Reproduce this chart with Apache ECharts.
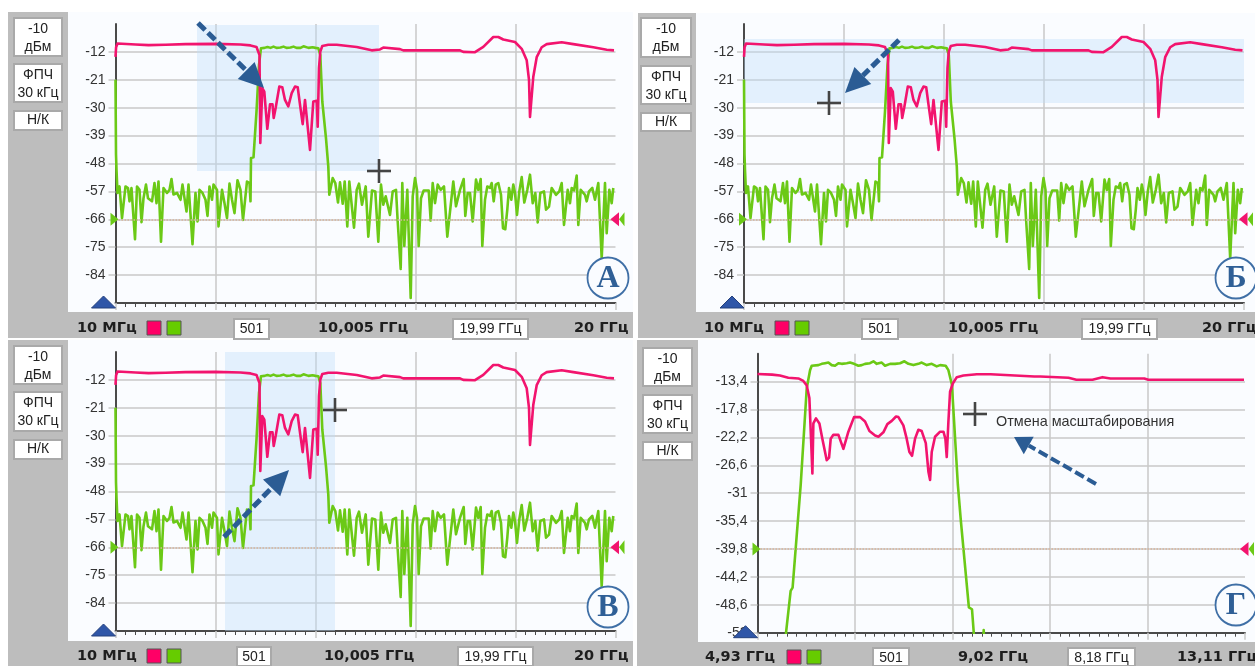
<!DOCTYPE html>
<html><head><meta charset="utf-8">
<style>html,body{margin:0;padding:0;background:#fff}#c{width:1255px;height:666px}</style>
<script src="https://cdn.jsdelivr.net/npm/echarts@6/dist/echarts.min.js"></script>
</head><body><div id="c"></div>
<script>
// Sweep point number (0..500) and level in dB
const wideRed = [[0,-13.6],[0.6,-10.5],[2,-9.3],[20,-9.6],[33,-9.8],[50,-9.7],[70,-9.5],[72,-9.2],[100,-9.4],[125,-9.6],[135,-9.9],[141,-10.4],[142.8,-10.7],[144,-13],[144.8,-41.4],[146.8,-23.7],[148.8,-24.8],[151.8,-36.8],[154.5,-28.9],[157,-28.9],[158.2,-33.3],[160.2,-30],[163.8,-23.2],[166.8,-23.4],[169.5,-27.5],[172.8,-29.6],[176.2,-25.3],[179.5,-23.2],[182.2,-23.4],[184.5,-29],[187.2,-35.3],[189.5,-27.5],[191.5,-27.5],[194.5,-43.6],[197.8,-28],[201.2,-27.8],[202.2,-36.1],[203.5,-17.2],[204.8,-11.9],[206.8,-10.1],[212.8,-9.7],[221.2,-9.7],[241.2,-10.4],[256.2,-11.5],[264.5,-11.2],[267.8,-10.6],[284.5,-11.1],[287.8,-11.5],[344.5,-11.5],[347.8,-12],[359.5,-12.1],[367.8,-10.4],[377.8,-7.2],[382.8,-7.2],[387.8,-8],[399.5,-8.8],[406.2,-11],[411.2,-14.7],[413.5,-21],[414.5,-33],[416.2,-33],[417.8,-20],[421.2,-13.7],[426.2,-10.5],[431.2,-9.5],[446.2,-8.9],[457.8,-9.5],[477.8,-10.5],[491.2,-11.3],[498.5,-11.5]];
const wideGreenLow = [[0,-21],[0.5,-45],[1,-50],[2,-57.5],[4,-55.4],[6.5,-65.6],[10,-55.4],[12.5,-55.9],[14,-60.2],[16,-55.9],[17,-60.8],[19.5,-72.4],[21.5,-55.4],[24,-56.5],[26,-66.9],[28,-59.2],[30.5,-54.8],[32.5,-59.2],[36.5,-60.2],[39,-54.3],[41,-60.8],[43,-53.8],[45.5,-73.2],[48,-55.9],[51.5,-57.5],[54,-56.5],[56,-53],[58,-58],[61.5,-57.5],[65,-59.7],[67,-54.8],[71,-63.5],[73,-54.8],[77,-74],[80,-57.5],[82,-66.7],[84,-56.5],[87,-57.5],[90,-59.7],[92,-64.9],[94,-55.4],[96.5,-59.7],[98,-54.8],[101.5,-56.5],[103,-68.3],[106.5,-56.5],[109,-60.8],[111.5,-65.6],[114,-54.5],[116.5,-59.7],[119,-64],[122,-53.4],[125,-56.5],[127.5,-66.2],[131.5,-53.8],[134,-54.3],[135,-60.2]];
const wideGreenPass = [[135.5,-46.2],[138,-46],[141,-31.2],[143.5,-16.2],[145.5,-10.8],[149,-10.7],[152,-10.4],[155,-10.7],[158,-10.3],[161,-10.7],[165,-10.6],[168,-10.3],[171,-10.7],[175,-10.6],[178,-10.3],[181,-10.7],[185,-10.7],[188,-10.2],[190,-10.3],[193,-10.7],[197,-10.5],[200,-10.7],[202.8,-10.8],[204.8,-13],[206.8,-28],[210.5,-39.9],[212.8,-49]];
const wideGreenHigh = [[213.8,-58.1],[217.2,-52.7],[219.8,-54.3],[222.5,-60.6],[224.5,-54.1],[227.2,-61],[229.2,-53.8],[231.8,-68.3],[233.8,-53.8],[235.8,-53.2],[238.5,-68.7],[241.2,-56.5],[243.5,-54.5],[246.5,-61.3],[248.5,-61.8],[250.2,-55.4],[252.8,-71.6],[256.5,-56.7],[259.8,-57],[262.8,-73.2],[265.5,-54.8],[267.8,-61.3],[270.2,-58.6],[274.5,-64.6],[277.2,-57],[280.5,-56.5],[282.2,-66.7],[285.2,-82],[286.8,-54.3],[288.8,-74.6],[291.8,-56.5],[295.2,-91.4],[297.2,-58.6],[299.5,-52.7],[301.5,-56.5],[303.2,-74.6],[305.5,-59.2],[308.2,-56.7],[313.2,-56.7],[315.2,-66.4],[317.2,-54.3],[319.5,-60.8],[322.2,-54.8],[325.2,-56.5],[328.5,-55.4],[331.8,-71.6],[337.8,-53.8],[340.5,-61.8],[344.5,-56.5],[348.2,-53],[349.8,-64.9],[352.2,-57.5],[354.5,-57.5],[357.2,-66.7],[360.5,-53.2],[362.8,-56.5],[365.2,-53],[366.8,-74.6],[369.5,-59.7],[371.8,-55.4],[374.5,-55.9],[376.2,-54.3],[378.2,-60.2],[380.2,-54.8],[382.8,-54.3],[385.5,-58.1],[387.5,-68.9],[389.8,-69.2],[391.8,-62.9],[393.5,-55.9],[395.8,-59.7],[397.8,-54.8],[399.5,-57.5],[401.5,-64.6],[403.8,-57],[406.2,-52.4],[408.8,-60.6],[411.8,-56.5],[414.5,-51.6],[417.2,-60.8],[419.8,-57.5],[422.2,-67],[424.8,-57.5],[428.5,-57],[430.5,-62.9],[433.5,-61.9],[436.2,-55.9],[440.5,-58.1],[443.8,-57],[446.2,-54.3],[448.5,-67.8],[452.2,-56.5],[454.5,-60.8],[456.2,-55.9],[458.5,-56.7],[461.2,-51.9],[462.8,-67.8],[465.2,-56.5],[469.5,-58.1],[471.2,-60.2],[473.5,-57],[476.8,-55.9],[479.5,-59.7],[482.8,-54.3],[486.2,-78.7],[489.5,-54.3],[491.2,-70.5],[493.8,-56.5],[496.2,-60.8],[497.8,-55.9]];
const zoomRed = [[0,-12.2],[15,-12.3],[23,-12.45],[31.6,-12.8],[41.9,-12.9],[47,-13.3],[50.5,-14],[53.2,-16],[54.9,-22.4],[56.3,-27.9],[57.3,-20],[60,-19.2],[63.5,-20],[66.5,-22.4],[71,-25.8],[73.4,-25.4],[75.1,-22.4],[77.8,-21.8],[83,-21.8],[88.1,-24],[93.2,-21.3],[99,-19],[105.2,-19],[110.3,-19.7],[114.8,-21.2],[120.6,-21.9],[124,-22.1],[129.1,-21.4],[133.2,-20.1],[137.7,-19.6],[142.1,-18.9],[144.5,-19],[149.6,-20.3],[153,-22.4],[155.8,-24.5],[158.5,-25.1],[161.6,-22.4],[165,-21],[168.4,-21.2],[172.6,-23.1],[175.3,-27.6],[177,-28.9],[178.7,-24.5],[182.1,-22.1],[187.3,-21.3],[190.7,-21.3],[192.7,-22.4],[194.1,-25.3],[195.8,-19.7],[197.5,-15],[200.3,-13.7],[204.4,-12.7],[211.2,-12.45],[225,-12.25],[239,-12.25],[284,-12.6],[290,-12.6],[319,-12.8],[327,-13.1],[343.6,-13.1],[353.8,-12.7],[362,-12.9],[396.7,-12.9],[400.8,-13.1],[499,-13.1]];
const zoomGreen = [[28,-56],[29.4,-52.8],[34,-46.4],[36,-45.9],[44.3,-29.7],[50.5,-14.45],[53.9,-11.6],[55.6,-10.9],[62.4,-10.8],[65.9,-10.6],[69.3,-10.5],[72.7,-10.4],[76.1,-10.8],[79.5,-10.9],[83,-10.5],[86.4,-10.6],[91.5,-10.5],[94.9,-10.4],[99,-10.6],[103.5,-10.9],[106.9,-10.8],[110.3,-10.6],[115.4,-10.5],[118.9,-10.2],[122.3,-10.6],[127.4,-10.4],[130.8,-10.9],[136,-10.6],[141.1,-10.6],[146.2,-10.5],[150.7,-10.2],[154.8,-10.6],[159.9,-10.8],[165,-10.6],[168.4,-10.4],[173.6,-10.8],[178.7,-10.6],[183.8,-11],[187.3,-10.8],[193,-10.9],[195.8,-11.6],[199.4,-13.9],[205.5,-29.7],[208.6,-35.4],[216.8,-49],[220,-49.3],[221.7,-52.8],[223,-56],[231,-56],[232,-52.6],[233,-56]];

const wideTicks = [-84,-75,-66,-57,-48,-39,-30,-21,-12];
const zoomTicks = [-53,-48.6,-44.2,-39.8,-35.4,-31,-26.6,-22.2,-17.8,-13.4];
const wideRange = [-93,-3];
const zoomRange = [-53,-9];
const wideMarker = -66;
const zoomMarker = -39.8;
const areaA = [[81.5,-3.3],[263.5,-50.4]];
const areaB = [[0,-7.8],[500,-28.5]];
const areaV = [[109.5,-3],[219.5,-93]];

const wideGreen = wideGreenLow.concat(wideGreenPass, wideGreenHigh);

const RED='#f2146e', GREEN='#6bc916', GRID='#c9c9c9', DARK='#4a4a4a', BLUE='#2b5c94';
const panels = [
 {x:8,y:12,r:633,b:338,plotX:68,plotB:312,gl:115.5,gw:500,gt:24,btn:[13,63,17,57,63,103,110,131],
  red:wideRed,green:wideGreen,ticks:wideTicks,range:wideRange,mark:wideMarker,area:areaA,letter:'А',lx:608,ly:278,
  txtY:328,left:['10 МГц',77],sq:[147,167],box1:[234,269],mid:['10,005 ГГц',318],box2:[453,528,'19,99 ГГц'],right:['20 ГГц',574],
  arrow:[198,23,264,88],cross:[379,171]},
 {x:638,y:13,r:1255,b:338,plotX:696,plotB:312,gl:744,gw:500,gt:24,btn:[640,692,17,58,65,105,112,132],
  red:wideRed,green:wideGreen,ticks:wideTicks,range:wideRange,mark:wideMarker,area:areaB,letter:'Б',lx:1236,ly:278,
  txtY:328,left:['10 МГц',704],sq:[775,795],box1:[862,898],mid:['10,005 ГГц',948],box2:[1082,1157,'19,99 ГГц'],right:['20 ГГц',1202],
  arrow:[899,40,845,93],cross:[829,103]},
 {x:8,y:340,r:633,b:666,plotX:68,plotB:641,gl:115.5,gw:500,gt:352,btn:[13,63,345,385,391,432,439,460],
  red:wideRed,green:wideGreen,ticks:wideTicks,range:wideRange,mark:wideMarker,area:areaV,letter:'В',lx:608,ly:607,
  txtY:656,left:['10 МГц',77],sq:[147,167],box1:[237,271],mid:['10,005 ГГц',324],box2:[458,533,'19,99 ГГц'],right:['20 ГГц',574],
  arrow:[224,537,289,470],cross:[335,410]},
 {x:637,y:340,r:1255,b:666,plotX:698,plotB:642,gl:757.5,gw:487.5,gt:353.7,btn:[642,693,347,387,394,434,441,461],
  red:zoomRed,green:zoomGreen,ticks:zoomTicks,range:zoomRange,mark:zoomMarker,area:null,letter:'Г',lx:1236,ly:605,zoom:true,
  txtY:657,left:['4,93 ГГц',705],sq:[787,807],box1:[873,909],mid:['9,02 ГГц',958],box2:[1068,1135,'8,18 ГГц'],right:['13,11 ГГц',1177],
  arrow:[1096,484,1014,437],cross:[975,414]}
];
const G_H = 279;
const grids=[],xAxes=[],yAxes=[],series=[],els=[];
const rect=(x,y,w,h,fill,stroke,lw,z)=>({type:'rect',z:z||-5,silent:true,shape:{x,y,width:w,height:h},style:{fill,stroke:stroke||null,lineWidth:lw||0}});
const text=(s,x,y,font,fill,align,z)=>({type:'text',z:z||-3,silent:true,style:{text:s,x,y,font,fill:fill||'#222',textAlign:align||'center',textVerticalAlign:'middle'}});
const poly=(pts,fill,z,stroke)=>({type:'polygon',z:z||20,silent:true,shape:{points:pts},style:{fill,stroke:stroke||null,lineWidth:stroke?1:0}});
const F='14px "Liberation Sans"', FB='bold 14.5px "DejaVu Sans"';

panels.forEach((p,i)=>{
  grids.push({left:p.gl,top:p.gt,width:p.gw,height:G_H,containLabel:false});
  xAxes.push({type:'value',gridIndex:i,min:0,max:500,interval:100,
    axisLabel:{show:false},
    axisLine:{onZero:false,lineStyle:{color:DARK,width:2}},
    axisTick:{show:true,length:7,lineStyle:{color:GRID,width:1.5}},
    minorTick:{show:true,splitNumber:10,length:4,lineStyle:{color:DARK,width:1}},
    splitLine:{show:true,showMinLine:false,showMaxLine:false,lineStyle:{color:GRID,width:1.5}}});
  yAxes.push({type:'value',gridIndex:i,min:p.range[0],max:p.range[1],
    axisLine:{show:true,onZero:false,lineStyle:{color:DARK,width:2}},
    axisTick:{show:true,length:7,customValues:p.ticks,lineStyle:{color:GRID,width:1.5}},
    axisLabel:{show:true,customValues:p.ticks,margin:10,color:'#333',fontFamily:'Liberation Sans',fontSize:14,
      showMinLabel:true,showMaxLabel:true,hideOverlap:false,
      formatter:v=>String(v).replace('.',',')},
    splitLine:{show:true,lineStyle:{color:GRID,width:1.5}}});
  const deco={type:'line',xAxisIndex:i,yAxisIndex:i,data:[],z:1,silent:true,symbol:'none',
    markLine:{silent:true,symbol:'none',label:{show:false},animation:false,
      lineStyle:{color:'#d8b49c',type:'dotted',width:1.5},data:[{yAxis:p.mark}]}};
  if(p.area) deco.markArea={silent:true,animation:false,itemStyle:{color:'rgba(190,222,250,0.38)'},
      data:[[{coord:p.area[0]},{coord:p.area[1]}]]};
  series.push(deco);
  const line=(d,c)=>({type:'line',xAxisIndex:i,yAxisIndex:i,data:d,symbol:'none',silent:true,clip:true,z:3,
     lineStyle:{color:c,width:2.6,join:'round'},itemStyle:{color:c}});
  series.push(line(p.green,GREEN));
  series.push(line(p.red,RED));

  // frame
  els.push(rect(p.x,p.y,p.r-p.x,p.b-p.y,'#bdbdbd',null,0,-9));
  els.push(rect(p.plotX,p.y,p.r-p.plotX,p.plotB-p.y,'#fafcff',null,0,-8));
  const b=p.btn, bt=(y0,y1)=>rect(b[0]+1,y0+1,b[1]-b[0]-2,y1-y0-2,'#fff','#a9a9a9',2,-7);
  els.push(bt(b[2],b[3]),bt(b[4],b[5]),bt(b[6],b[7]));
  const cx=(b[0]+b[1])/2;
  els.push(text('-10',cx,b[2]+12,F),text('дБм',cx,b[2]+30,F));
  els.push(text('ФПЧ',cx,b[4]+12,F),text('30 кГц',cx,b[4]+30,F));
  els.push(text('Н/К',cx,(b[6]+b[7])/2,F));
  // bottom strip
  els.push(text(p.left[0],p.left[1],p.txtY,FB,'#1e1e1e','left'));
  els.push(text(p.mid[0],p.mid[1],p.txtY,FB,'#1e1e1e','left'));
  els.push(text(p.right[0],p.right[1],p.txtY,FB,'#1e1e1e','left'));
  els.push(rect(p.sq[0],p.txtY-7,14,14,'#ff0066','#555',1,-7));
  els.push(rect(p.sq[1],p.txtY-7,14,14,'#66cc00','#555',1,-7));
  const by=p.txtY-9, bh=Math.min(20,666-by);
  els.push(rect(p.box1[0],by,p.box1[1]-p.box1[0],bh,'#fff','#a9a9a9',2,-7));
  els.push(text('501',(p.box1[0]+p.box1[1])/2,p.txtY+1,F));
  els.push(rect(p.box2[0],by,p.box2[1]-p.box2[0],bh,'#fff','#a9a9a9',2,-7));
  els.push(text(p.box2[2],(p.box2[0]+p.box2[1])/2,p.txtY+1,F));
  // cursors and triangles
  const yb=p.gt+G_H, xr=p.gl+p.gw;
  const ym=yb-(p.mark-p.range[0])/(p.range[1]-p.range[0])*G_H;
  els.push(poly([[p.gl-24,yb+5],[p.gl-12,yb-7],[p.gl,yb+5]],'#2f56a8',20,'#24407c'));
  els.push(poly([[p.gl-5,ym-6.5],[p.gl+3,ym],[p.gl-5,ym+6.5]],GREEN));
  els.push(poly([[xr+3.5,ym-7],[xr-5,ym],[xr+3.5,ym+7]],RED,21));
  els.push(poly([[xr+9,ym-7],[xr+3.5,ym],[xr+9,ym+7]],GREEN));
  // round letter
  els.push({type:'circle',z:22,silent:true,shape:{cx:p.lx,cy:p.ly,r:20.5},style:{fill:'#fafcff',stroke:'#3f6fa6',lineWidth:1.8}});
  els.push(text(p.letter,p.lx,p.ly+1,'bold 32px "Liberation Serif"','#2f5f96','center',23));
  // arrow
  const [ax,ay,bx,by2]=p.arrow, L=Math.hypot(bx-ax,by2-ay), ux=(bx-ax)/L, uy=(by2-ay)/L, hl=p.zoom?17:25, hw=p.zoom?10:12;
  const sx=bx-ux*hl, sy=by2-uy*hl;
  els.push({type:'line',z:24,silent:true,shape:{x1:ax,y1:ay,x2:sx,y2:sy},style:{stroke:BLUE,lineWidth:p.zoom?4:5,lineDash:[10,4]}});
  els.push(poly([[bx,by2],[sx-uy*hw,sy+ux*hw],[sx+uy*hw,sy-ux*hw]],BLUE,24));
  // cross cursor
  const [c1,c2]=p.cross;
  els.push({type:'line',z:25,silent:true,shape:{x1:c1-12,y1:c2,x2:c1+12,y2:c2},style:{stroke:'#444',lineWidth:2.6}});
  els.push({type:'line',z:25,silent:true,shape:{x1:c1,y1:c2-12,x2:c1,y2:c2+12},style:{stroke:'#444',lineWidth:2.6}});
  if(p.zoom) els.push(text('Отмена масштабирования',996,422,'14.4px "Liberation Sans"','#333','left',25));
});

const chart=echarts.init(document.getElementById('c'),null,{renderer:'canvas'});
chart.setOption({animation:false,backgroundColor:'#fff',grid:grids,xAxis:xAxes,yAxis:yAxes,series,graphic:{elements:els}});
</script></body></html>
